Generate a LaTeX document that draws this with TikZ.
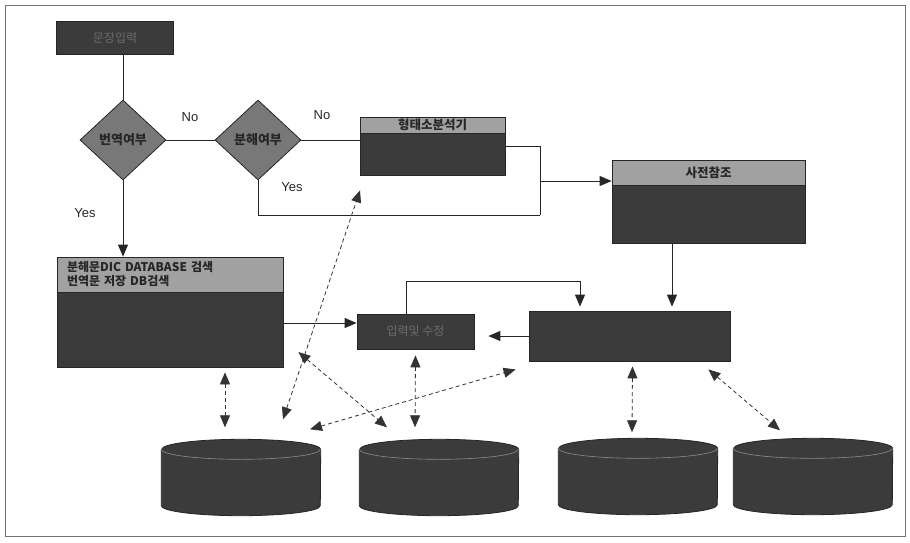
\documentclass[tikz,border=0pt]{standalone}
\usepackage{fontspec}
\setmainfont{Liberation Sans}
\newfontfamily\kr{Noto Sans CJK KR}
\usetikzlibrary{shapes.geometric,arrows.meta}

\tikzset{
    darkbox/.style={draw=black!85, fill=black!77, line width=0.8pt, inner sep=0pt,
        font=\kr\fontsize{12}{14}\selectfont, text=black!58},
    headband/.style={draw=black!85, fill=black!37, line width=0.8pt, inner sep=1pt,
        font=\kr\bfseries\fontsize{12.5}{14}\selectfont, text=black!85},
    decision/.style={diamond, draw=black!85, fill=black!53, line width=0.8pt,
        minimum width=86pt, minimum height=80pt, inner sep=1pt,
        font=\kr\bfseries\fontsize{13}{14}\selectfont, text=black!85},
    dbbox/.style={minimum width=159pt, minimum height=76pt, inner sep=0pt},
    dbbody/.style={draw=black!85, fill=black!77, line width=0.8pt},
    dbrim/.style={draw=black!45, line width=0.6pt},
    flow/.style={line width=0.9pt, draw=black!85},
    flowarrow/.style={flow, -{Triangle[length=12pt,width=10pt]}},
    dataflow/.style={{Triangle[length=12pt,width=10pt]}-{Triangle[length=12pt,width=10pt]},
        dash pattern=on 4pt off 3pt, line width=0.8pt, draw=black!80},
    yesno/.style={font=\fontsize{13}{15}\selectfont, text=black!85},
}

\begin{document}
\begin{tikzpicture}[x=1pt, y=-1pt]
    \useasboundingbox (0,0) rectangle (910,542);
    % Frame
    \draw[black!55, line width=1pt] (5,5) rectangle (905,536);

    % Boxes and decisions
    \node[darkbox, minimum width=117pt, minimum height=33pt] (start) at (115,38) {문장입력};
    \node[decision] (q1) at (123,140) {번역여부};
    \node[decision] (q2) at (258,140) {분해여부};

    \node[darkbox, minimum width=145pt, minimum height=58pt] (morph) at (432.5,146) {};
    \node[headband, minimum width=145pt, minimum height=16pt, anchor=north] (morphHead) at (morph.north) {형태소분석기};

    \node[darkbox, minimum width=193pt, minimum height=83pt] (dict) at (708.5,201.5) {};
    \node[headband, minimum width=193pt, minimum height=25pt, anchor=north] (dictHead) at (dict.north) {사전참조};

    \node[darkbox, minimum width=226pt, minimum height=110pt] (dic) at (170,312) {};
    \node[headband, text width=206pt, inner xsep=10pt, align=left, minimum height=35pt, anchor=north,
        font=\kr\bfseries\fontsize{12}{14}\selectfont] (dicHead) at (dic.north) {분해문DIC DATABASE 검색\\번역문 저장 DB검색};

    \node[darkbox, minimum width=117pt, minimum height=35pt] (edit) at (415.5,331.5) {입력및 수정};
    \node[darkbox, minimum width=201pt, minimum height=50pt] (pattern) at (629.5,336) {};

    % Yes / No
    \node[yesno] (no1) at (190,117) {No};
    \node[yesno] (no2) at (322,115) {No};
    \node[yesno] (yes1) at (85,213) {Yes};
    \node[yesno] (yes2) at (292,187) {Yes};

    % Control flow
    \coordinate (jn) at (540,181);
    \coordinate (jnb) at (540,215);
    \coordinate (loopc) at (580,281);
    \draw[flow] (start.south -| q1.north) -- (q1.north);
    \draw[flow] (q1.east) -- (q2.west);
    \draw[flow] (q2.east) -- (q2.east -| morph.west);
    \draw[flow] (morph.east) -| (jnb);
    \draw[flow] (q2.south) |- (jnb);
    \draw[flowarrow] (jn) -- (jn -| dict.west);
    \draw[flowarrow] (q1.south) -- (q1.south |- dic.north);
    \draw[flowarrow, shorten >=4pt] ([xshift=-36.5pt]dict.south) -- ([xshift=-36.5pt]dict.south |- pattern.north);
    \draw[flowarrow] ([yshift=-11pt]dic.east) -- ([yshift=-11pt]dic.east -| edit.west);
    \draw[flowarrow, shorten >=4pt] ([xshift=-9pt]edit.north) |- (loopc) -- (loopc |- pattern.north);
    \draw[flowarrow, shorten >=14pt] (pattern.west) -- (pattern.west -| edit.east);

    % Databases
    \foreach \n/\x/\y in {db1/241/477.5, db2/439/477.5, db3/638/476.5, db4/813/476.5} {
        \node[dbbox] (\n) at (\x,\y) {};
        \path[dbbody] ([yshift=-10pt]\n.north west) -- ([yshift=10pt]\n.south west)
            arc[start angle=180, end angle=360, x radius=79.5pt, y radius=10pt]
            -- ([yshift=-10pt]\n.north east)
            arc[start angle=0, end angle=180, x radius=79.5pt, y radius=10pt] -- cycle;
        \draw[dbrim] ([yshift=-10pt]\n.north west) arc[start angle=180, end angle=360, x radius=79.5pt, y radius=10pt];
    }

    % Data access
    \draw[dataflow] ([xshift=55pt,yshift=-5pt]dic.south) -- ([xshift=-16pt,yshift=12pt]db1.north);
    \draw[dataflow] ([xshift=15pt,yshift=-40pt]dic.east) -- ([xshift=-52pt,yshift=12pt]db2.north);
    \draw[dataflow] ([xshift=42pt,yshift=20pt]db1.north) -- ([xshift=-72.5pt,yshift=-15pt]morph.south);
    \draw[dataflow] ([xshift=69pt,yshift=10pt]db1.north) -- ([xshift=-13pt,yshift=-8pt]pattern.south west);
    \draw[dataflow] ([yshift=-6pt]edit.south) -- ([xshift=-24pt,yshift=12pt]db2.north);
    \draw[dataflow] ([xshift=3pt,yshift=-5pt]pattern.south) -- ([xshift=-6pt,yshift=6pt]db3.north);
    \draw[dataflow] ([xshift=-22pt,yshift=-8pt]pattern.south east) -- ([xshift=-33pt,yshift=8pt]db4.north);
\end{tikzpicture}
\end{document}
